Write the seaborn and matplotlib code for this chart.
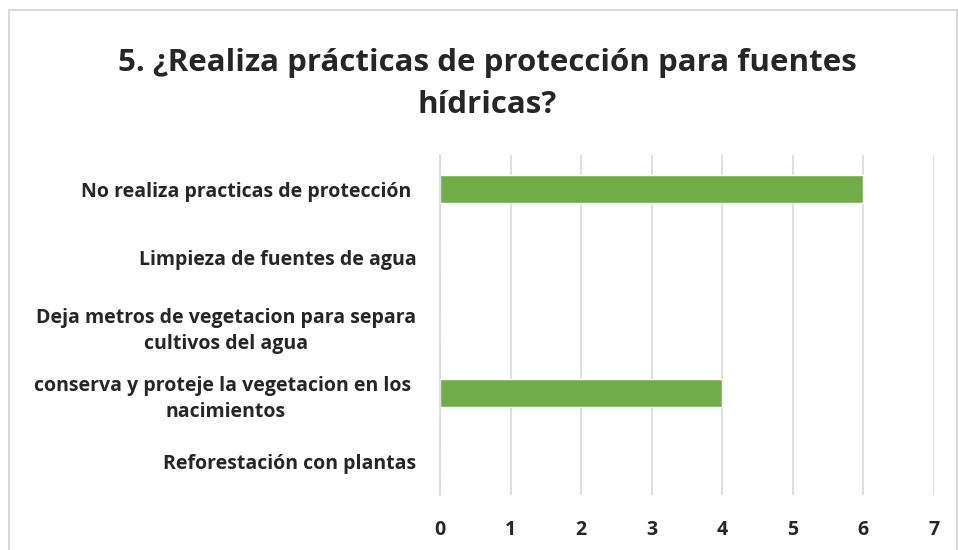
import matplotlib
matplotlib.use("Agg")
import matplotlib.pyplot as plt
import pandas as pd
import seaborn as sns
from matplotlib.patches import Rectangle

TITLE = "5. ¿Realiza prácticas de protección para fuentes\nhídricas?"
CATEGORIES = [
    "No realiza practicas de protección ",
    "Limpieza de fuentes de agua",
    "Deja metros de vegetacion para separa\ncultivos del agua",
    "conserva y proteje la vegetacion en los \nnacimientos",
    "Reforestación con plantas",
]
COUNTS = [6, 0, 0, 4, 0]
X_TICKS = [0, 1, 2, 3, 4, 5, 6, 7]

BAR_COLOR = "#70AD47"
GRID_COLOR = "#D9D9D9"

sns.set_theme(style="white")
plt.rcParams["font.family"] = ["Open Sans", "DejaVu Sans"]

df = pd.DataFrame({"category": CATEGORIES, "count": COUNTS})

fig = plt.figure(figsize=(9.58, 5.5), dpi=100)
ax = fig.add_axes([440 / 958, 1 - 495 / 550, 494 / 958, 340 / 550])

sns.barplot(data=df, x="count", y="category", order=CATEGORIES, color=BAR_COLOR,
            width=0.4, saturation=1, ax=ax)

ax.set_xlim(0, 7)
ax.set_xticks(X_TICKS)
ax.xaxis.grid(True, color=GRID_COLOR, linewidth=1.2)
ax.set_axisbelow(True)
for side in ["top", "right", "bottom"]:
    ax.spines[side].set_visible(False)
ax.spines["left"].set_color(GRID_COLOR)
ax.spines["left"].set_linewidth(1.2)
ax.tick_params(axis="both", length=0)
ax.tick_params(axis="y", pad=17)
ax.tick_params(axis="x", pad=18)
ax.set_xlabel("")
ax.set_ylabel("")

for lbl in ax.get_yticklabels():
    lbl.set_fontsize(14)
    lbl.set_fontweight("bold")
    lbl.set_multialignment("center")
    lbl.set_linespacing(1.45)
for lbl in ax.get_xticklabels():
    lbl.set_fontsize(14)
    lbl.set_fontweight("bold")

fig.text(0.5 + 8 / 958, 1 - 84 / 550, TITLE, ha="center", va="center",
         fontsize=22.5, fontweight="bold", linespacing=1.55)

fig.patches.append(Rectangle((9 / 958, -0.05), 948 / 958, 1.05 - 10 / 550,
                             transform=fig.transFigure, fill=False,
                             edgecolor=GRID_COLOR, linewidth=1.5))

fig.savefig("out.png", dpi=100)
